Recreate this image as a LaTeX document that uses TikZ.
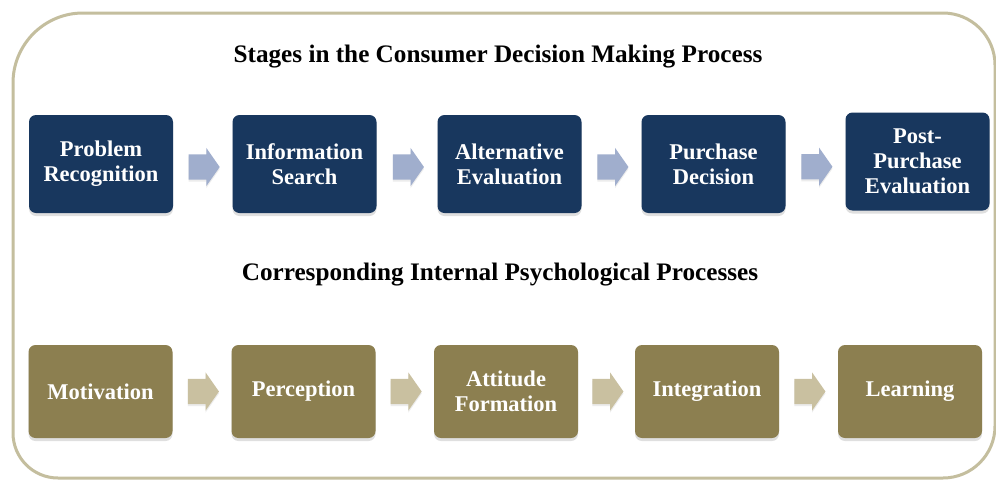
\documentclass[tikz,border=0pt]{standalone}
\usepackage{fontspec}
\setmainfont{Liberation Serif}
\usetikzlibrary{shapes.arrows,shadows,calc}
\definecolor{navy}{RGB}{24,55,94}
\definecolor{olive}{RGB}{140,127,80}
\definecolor{framec}{RGB}{196,190,158}
\definecolor{arrblue}{RGB}{160,174,205}
\definecolor{arrolive}{RGB}{201,192,160}
\tikzset{
  frame/.style={draw=framec, line width=3pt},
  stagebox/.style={rectangle, rounded corners=7pt, minimum width=144pt, text width=140pt,
     align=center, text=white, inner sep=0pt,
     font=\fontsize{22.5}{25}\selectfont\bfseries,
     drop shadow={shadow xshift=0pt, shadow yshift=-3pt, opacity=0.25}},
  topbox/.style={stagebox, fill=navy, minimum height=98pt},
  botbox/.style={stagebox, fill=olive, minimum height=93pt},
  blockarr/.style={single arrow, minimum height=31pt,
     single arrow head extend=6.5pt, single arrow tip angle=110, inner sep=0pt, draw=none,
     drop shadow={shadow xshift=0pt, shadow yshift=-2pt, opacity=0.15}},
  toparr/.style={blockarr, fill=arrblue},
  botarr/.style={blockarr, fill=arrolive},
  title/.style={font=\fontsize{25.2}{28}\selectfont\bfseries, text=black}
}
\newcommand{\shaft}{\rule{0pt}{25pt}}
\begin{document}
\begin{tikzpicture}[x=1pt,y=-1pt]
\useasboundingbox (0,0) rectangle (996,482);
\fill[white] (0,0) rectangle (996,482);
% outer frame
\draw[frame, rounded corners=70pt] (13,240) -- (13,13) -- (500,13)
  [rounded corners=52pt] -| (995,240) |- (500,478)
  [rounded corners=45pt] -| (13,240) -- cycle;

\node[title] (t1) at (498,57) {Stages in the Consumer Decision Making Process};
\node[title] (t2) at (500,275) {Corresponding Internal Psychological Processes};

% top row
\node[topbox] (p1) at (101,164) {Problem\\Recognition};
\node[topbox] (p2) at (304.5,164) {Information\\Search};
\node[topbox] (p3) at (509.5,164) {Alternative\\Evaluation};
\node[topbox] (p4) at (713.5,164) {Purchase\\Decision};
\node[topbox] (p5) at (917.5,161.5) {Post-\\Purchase\\Evaluation};

\node[toparr] (a1) at ($(p1.east)!0.5!(p2.west)+(-3,3)$) {\shaft};
\node[toparr] (a2) at ($(p2.east)!0.5!(p3.west)+(-3,3)$) {\shaft};
\node[toparr] (a3) at ($(p3.east)!0.5!(p4.west)+(-3,3)$) {\shaft};
\node[toparr] (a4) at ($(p4.east)!0.5!(p5.west)+(-3,4)$) {\shaft};

% bottom row
\node[botbox] (q1) at (100.5,391.5) {Motivation};
\node[botbox] (q2) at (303.5,391.5) {Perception};
\node[botbox] (q3) at (506,391.5) {Attitude\\Formation};
\node[botbox] (q4) at (707,391.5) {Integration};
\node[botbox] (q5) at (910,391.5) {Learning};

\node[botarr] (b1) at ($(q1.east)!0.5!(q2.west)+(-3,0)$) {\shaft};
\node[botarr] (b2) at ($(q2.east)!0.5!(q3.west)+(-3,0)$) {\shaft};
\node[botarr] (b3) at ($(q3.east)!0.5!(q4.west)+(-3,0)$) {\shaft};
\node[botarr] (b4) at ($(q4.east)!0.5!(q5.west)+(-3,0)$) {\shaft};
\end{tikzpicture}
\end{document}
